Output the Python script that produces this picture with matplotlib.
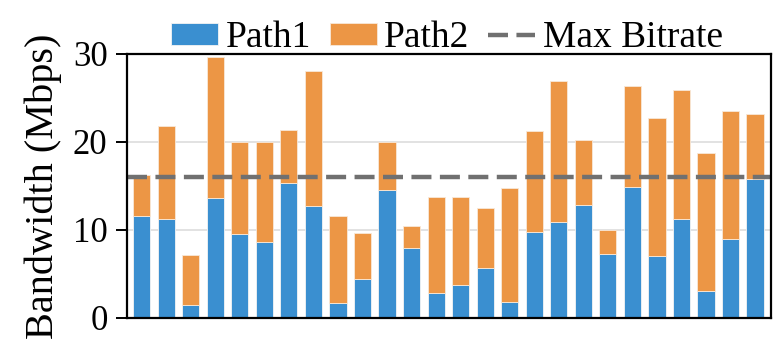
import matplotlib
matplotlib.use("Agg")
import matplotlib.pyplot as plt
import numpy as np

plt.rcParams['font.family'] = ['Liberation Serif', 'DejaVu Serif']

# per-run bandwidth split across the two paths (Mbps)
path1 = [11.6, 11.2, 1.5, 13.6, 9.5, 8.6, 15.3, 12.7, 1.7, 4.4, 14.5, 7.9, 2.8,
         3.7, 5.7, 1.8, 9.8, 10.9, 12.8, 7.3, 14.9, 7.0, 11.3, 3.1, 9.0, 15.8]
total = [16.2, 21.8, 7.2, 29.6, 20.0, 20.0, 21.4, 28.1, 11.6, 9.7, 20.0, 10.4, 13.7,
         13.7, 12.5, 14.8, 21.2, 26.9, 20.2, 10.0, 26.4, 22.7, 25.9, 18.7, 23.5, 23.2]
path2 = [t - p for t, p in zip(total, path1)]
max_bitrate = 16.0

x = np.arange(len(path1))

fig, ax = plt.subplots(figsize=(7.77, 3.39), dpi=100)
b1 = ax.bar(x, path1, width=0.7, color='#3a8fd0', edgecolor='#f4f4f4', linewidth=0.6,
            label='Path1', zorder=3)
b2 = ax.bar(x, path2, width=0.7, bottom=path1, color='#ec9645', edgecolor='#f8e8d8',
            linewidth=0.6, label='Path2', zorder=3)
hl = ax.axhline(max_bitrate, color='#707070', linestyle=(0, (4.5, 1.9)), linewidth=3.2,
                label='Max Bitrate', zorder=4)

ax.set_xlim(-0.6, len(x) - 0.35)
ax.set_ylim(0, 30)
ax.set_yticks([0, 10, 20, 30])
ax.set_xticks([])
ax.tick_params(axis='y', labelsize=25, length=8, width=1.4, direction='out', pad=6)
ax.set_ylabel('Bandwidth (Mbps)', fontsize=29, labelpad=8)
ax.yaxis.grid(True, color='#dddddd', linewidth=1.2, zorder=0)
for s in ax.spines.values():
    s.set_linewidth(1.6)
    s.set_zorder(5)

ax.legend(handles=[b1, b2, hl], loc='lower center', bbox_to_anchor=(0.497, 0.995),
          ncol=3, frameon=False, fontsize=27, handlelength=1.25, handleheight=0.55,
          handletextpad=0.2, columnspacing=0.5, borderaxespad=0, borderpad=0)

fig.subplots_adjust(left=0.1634, right=0.9923, top=0.841, bottom=0.062)
fig.savefig('out.png', dpi=100)
